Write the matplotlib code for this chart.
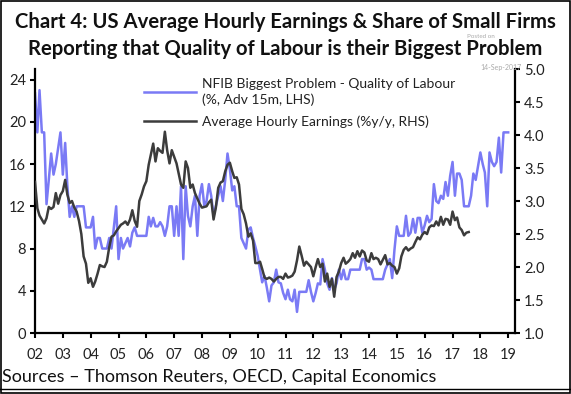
# ─────────────────────────────────────────────
# Chart 4: US AHE vs NFIB "quality of labour" share
# ─────────────────────────────────────────────
import pandas as pd
import matplotlib.pyplot as plt
from matplotlib.lines import Line2D

NFIB_COLOR = "#7a7af5"
AHE_COLOR = "#3c3c3c"

# NFIB biggest problem - quality of labour (%, advanced 15m, LHS), monthly from Jan 2002
nfib = [
    22.7, 19, 23, 19, 19, 12.2, 14.5, 17, 15, 16, 17.5, 19,           # 2002
    15, 18, 14, 11, 12, 11, 12, 12, 12, 12, 10, 10,                   # 2003
    10, 11, 8, 9, 9, 8, 8, 8, 9, 8, 10, 12,                           # 2004
    7, 9, 8, 8.5, 9, 8.2, 9.5, 10, 9.2, 9.2, 9.2, 9.2,                # 2005
    9.2, 11, 10.1, 10.9, 10.1, 10.1, 10.5, 10.1, 9.2, 10.1, 12, 12,   # 2006
    9.2, 12, 9.2, 13.9, 7, 13.9, 11.1, 10.1, 12, 13, 9.2, 13,         # 2007
    14.1, 12, 12.5, 14.1, 13, 11.1, 12, 13, 13.9, 12.5, 14.5, 17,     # 2008
    15.5, 13.5, 13.9, 12, 12, 9, 8.5, 8, 9.8, 10, 9, 8.2,             # 2009
    7.3, 6, 4.8, 5.4, 4.3, 3, 4.5, 4.8, 6, 4.8, 4.7, 3.8,             # 2010
    3.2, 4.1, 3.2, 3, 4.1, 2, 3.9, 3.9, 3.9, 3.9, 5, 3.9,             # 2011
    3, 3.8, 4.7, 4.6, 7, 6, 4.7, 4.1, 5.2, 4.1, 4.7, 6,               # 2012
    5.1, 6, 5.1, 5.1, 6, 6, 6, 6, 6, 7, 7, 6,                         # 2013
    6.2, 6, 5.1, 5.1, 5.1, 5.1, 5.1, 6, 6.5, 7, 5.2, 7.9,             # 2014
    10.1, 9.2, 9.2, 9.2, 11.1, 9.2, 9.5, 10.8, 9.5, 10.9, 10.9, 9.5,  # 2015
    10.2, 11.1, 10.5, 10.8, 14.1, 12.5, 12.3, 13, 12.7, 14.3, 13, 14.9,  # 2016
    16.2, 13, 15.1, 15.1, 14.5, 12, 12, 12, 13, 15.1, 14.5, 15.8,     # 2017
    17.1, 16, 15.2, 12, 17.1, 16.2, 15.8, 16.2, 18.5, 15.2, 19, 19,   # 2018
    19,                                                               # 2019
]

# Average hourly earnings (%y/y, RHS), monthly from Jan 2002
ahe = [
    3.29, 2.89, 2.78, 2.72, 2.66, 2.74, 2.91, 2.88, 2.91, 3.12, 2.96, 3.09,  # 2002
    3.15, 3.32, 3.1, 2.97, 3.0, 2.9, 2.84, 2.7, 2.5, 2.16, 2.05, 1.76,      # 2003
    1.83, 1.7, 1.78, 1.9, 2.03, 2.01, 2.0, 2.08, 2.3, 2.46, 2.48, 2.54,     # 2004
    2.59, 2.64, 2.66, 2.69, 2.64, 2.72, 2.86, 2.7, 2.61, 3.0, 3.1, 3.22,    # 2005
    3.3, 3.55, 3.7, 3.87, 3.6, 3.8, 3.76, 3.73, 4.05, 3.77, 3.57, 3.77,     # 2006
    3.67, 3.57, 3.42, 3.25, 3.2, 3.6, 3.5, 3.2, 3.25, 3.12, 3.04, 2.96,     # 2007
    2.9, 2.91, 2.92, 2.98, 3.02, 2.72, 2.9, 3.2, 3.28, 3.3, 3.45, 3.55,     # 2008
    3.58, 3.45, 3.35, 3.36, 3.25, 2.88, 2.8, 2.66, 2.46, 2.51, 2.4, 2.06,   # 2009
    2.06, 2.08, 1.97, 1.84, 1.82, 1.84, 1.82, 1.78, 1.82, 1.85, 1.85, 1.82, # 2010
    1.9, 1.84, 1.85, 1.87, 1.93, 2.1, 2.31, 2.17, 2.02, 2.08, 2.04, 2.0,    # 2011
    1.86, 2.0, 2.12, 2.0, 2.05, 1.78, 1.9, 1.7, 1.82, 1.55, 1.85, 1.93,     # 2012
    2.06, 2.14, 2.05, 2.08, 2.12, 2.21, 2.14, 2.24, 2.16, 2.25, 2.22, 2.1,  # 2013
    2.08, 2.21, 2.12, 2.14, 2.12, 2.04, 2.11, 2.18, 2.04, 2.06, 2.02, 2.0,  # 2014
    1.9, 1.98, 2.16, 2.26, 2.3, 2.25, 2.28, 2.3, 2.38, 2.45, 2.42, 2.49,    # 2015
    2.53, 2.5, 2.6, 2.63, 2.62, 2.69, 2.63, 2.76, 2.64, 2.73, 2.72, 2.64,   # 2016
    2.84, 2.71, 2.75, 2.6, 2.56, 2.48, 2.52, 2.53,                          # 2017
]

year_labels = ["02", "03", "04", "05", "06", "07", "08", "09", "10",
               "11", "12", "13", "14", "15", "16", "17", "18", "19"]

nfib_dates = pd.date_range("2002-01-01", periods=len(nfib), freq="MS")
ahe_dates = pd.date_range("2002-01-01", periods=len(ahe), freq="MS")
tick_dates = pd.date_range("2002-01-01", periods=len(year_labels), freq="YS")

plt.rcParams["font.family"] = ["Lato", "DejaVu Sans"]

fig = plt.figure(figsize=(5.71, 3.94), dpi=100, facecolor="white")
ax = fig.add_axes([0.0613, 0.1548, 0.8407, 0.670])
ax2 = ax.twinx()

# --- Lines ---
ax.plot(nfib_dates, nfib, color=NFIB_COLOR, lw=1.8)
ax2.plot(ahe_dates, ahe, color=AHE_COLOR, lw=1.8)

ax.set_ylim(0, 25)
ax.set_yticks([0, 4, 8, 12, 16, 20, 24])
ax2.set_ylim(1, 5)
ax2.set_yticks([1.0, 1.5, 2.0, 2.5, 3.0, 3.5, 4.0, 4.5, 5.0])
ax2.set_yticklabels([f"{v:.1f}" for v in ax2.get_yticks()])

ax.set_xlim(pd.Timestamp("2002-01-01"), pd.Timestamp("2019-04-01"))
ax.set_xticks(tick_dates)
ax.set_xticklabels(year_labels)

# Axis styling
for a in (ax, ax2):
    a.spines["top"].set_visible(False)
    for s in a.spines.values():
        s.set_linewidth(1.6)
        s.set_color("black")
    a.tick_params(direction="out", length=3.5, width=1.5, labelsize=10.5,
                  colors="black", labelcolor="#222222", pad=3)
ax.spines["right"].set_visible(False)
ax2.spines["left"].set_visible(False)
ax2.spines["bottom"].set_visible(False)
ax.tick_params(axis="x", pad=7)

# Legend
handles = [
    Line2D([], [], color=NFIB_COLOR, lw=1.8),
    Line2D([], [], color=AHE_COLOR, lw=1.8),
]
labels = [
    "NFIB Biggest Problem - Quality of Labour\n(%, Adv 15m, LHS)",
    "Average Hourly Earnings (%y/y, RHS)",
]
leg = ax2.legend(handles, labels, loc="upper left", bbox_to_anchor=(0.2, 1.015),
                 frameon=False, fontsize=10, handlelength=3.8, handletextpad=0.4,
                 labelspacing=0.7, labelcolor="#222222")
for t in leg.get_texts():
    t.set_linespacing(1.35)

# Title (two separate lines so the watermark can sit in the gap)
title_kw = dict(ha="center", va="baseline", fontsize=14.6, fontweight="bold", color="#111111")
fig.text(0.5, 1 - 28 / 394, "Chart 4: US Average Hourly Earnings & Share of Small Firms", **title_kw)
fig.text(0.5, 1 - 55 / 394, "Reporting that Quality of Labour is their Biggest Problem", **title_kw)

# Watermark
fig.text(0.818, 1 - 37.5 / 394, "Posted on", fontsize=4.5, color="#aaaaaa", va="baseline")
fig.text(0.842, 0.822, "14-Sep-2017", fontsize=5, color="#aaaaaa")

# Source
fig.text(0.004, 0.022, "Sources \u2013 Thomson Reuters, OECD, Capital Economics",
         fontsize=13, color="#111111", ha="left", va="bottom")

# Border
fig.patches.append(plt.Rectangle((0.001, 0.002), 0.997, 0.996, transform=fig.transFigure,
                                 fill=False, edgecolor="black", lw=1.2))
fig.add_artist(Line2D([0, 1], [0.013, 0.013], transform=fig.transFigure,
                      color="black", lw=1.0))

plt.savefig("out.png", dpi=100, facecolor=fig.get_facecolor())
